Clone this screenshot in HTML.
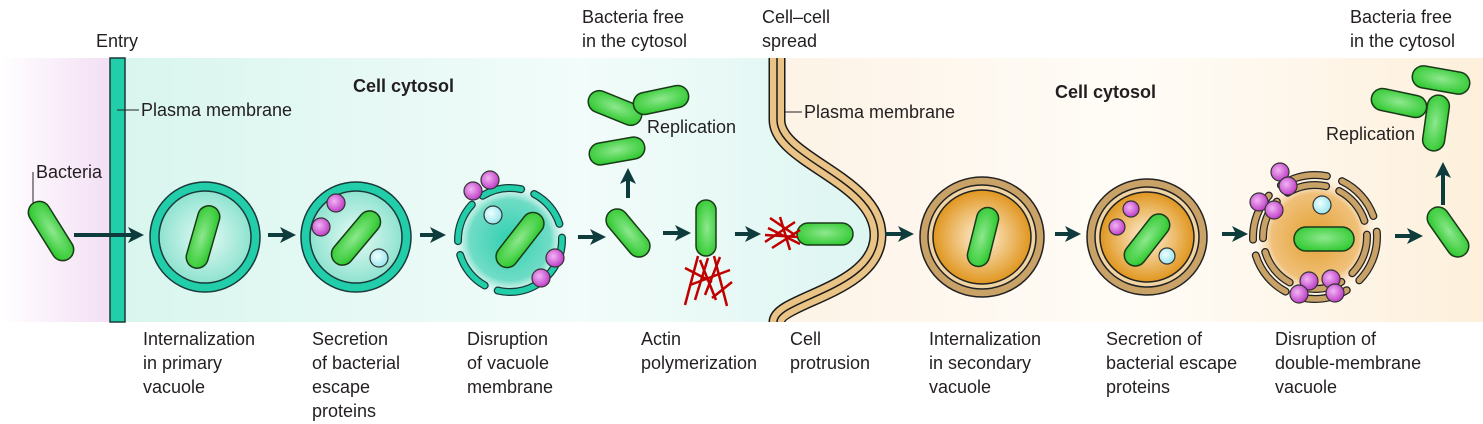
<!DOCTYPE html>
<html><head><meta charset="utf-8"><style>
html,body{margin:0;padding:0;background:#fff}
svg{display:block}
text{font-family:"Liberation Sans",sans-serif;fill:#231f20}
.lb{font-size:18px}
.b{font-weight:bold;font-size:18px}
</style></head><body>
<svg width="1483" height="424" viewBox="0 0 1483 424">
<defs>
<linearGradient id="pink" x1="0" x2="1"><stop offset="0" stop-color="#fff"/><stop offset="1" stop-color="#f3def4"/></linearGradient>
<linearGradient id="teal" x1="0" x2="1"><stop offset="0" stop-color="#d8f5ee"/><stop offset="0.6" stop-color="#f2fcfa"/><stop offset="1" stop-color="#dcf5f1"/></linearGradient>
<linearGradient id="cream" x1="0" x2="1"><stop offset="0" stop-color="#fdf3e6"/><stop offset="0.5" stop-color="#fffcf7"/><stop offset="1" stop-color="#fdf0dc"/></linearGradient>
<radialGradient id="bac" cx="0.5" cy="0.45" r="0.6"><stop offset="0" stop-color="#8ee88e"/><stop offset="1" stop-color="#2fc92f"/></radialGradient>
<radialGradient id="tv" cx="0.5" cy="0.5" r="0.5"><stop offset="0" stop-color="#e6faf5"/><stop offset="1" stop-color="#8fe3d0"/></radialGradient>
<radialGradient id="tglow" cx="0.5" cy="0.5" r="0.5"><stop offset="0" stop-color="#30d0b0"/><stop offset="0.7" stop-color="#70dcc6"/><stop offset="1" stop-color="#dff6f2" stop-opacity="0"/></radialGradient>
<radialGradient id="ov" cx="0.5" cy="0.5" r="0.5"><stop offset="0" stop-color="#fff2dc"/><stop offset="1" stop-color="#e0961f"/></radialGradient>
<radialGradient id="oglow" cx="0.5" cy="0.5" r="0.5"><stop offset="0" stop-color="#e3a030"/><stop offset="0.7" stop-color="#f0c07a"/><stop offset="1" stop-color="#fdf3e6" stop-opacity="0"/></radialGradient>
<radialGradient id="pur" cx="0.4" cy="0.4" r="0.6"><stop offset="0" stop-color="#f2b4f4"/><stop offset="1" stop-color="#c040c8"/></radialGradient>
<radialGradient id="cy" cx="0.4" cy="0.4" r="0.6"><stop offset="0" stop-color="#f0ffff"/><stop offset="1" stop-color="#9ae6ee"/></radialGradient>
<marker id="ah" markerWidth="4" markerHeight="4" refX="2" refY="2" orient="auto" markerUnits="strokeWidth"><path d="M0,0 L4,2 L0,4 L1,2z" fill="#0e3b3b"/></marker>
</defs>

<rect x="0" y="58" width="112" height="264" fill="url(#pink)"/>
<rect x="112" y="58" width="780" height="264" fill="url(#teal)"/>
<path d="M775,58 L775,120 C775,160 880,180 880,235 C880,290 775,300 775,322 L1483,322 L1483,58 Z" fill="url(#cream)"/>
<rect x="110" y="58" width="15" height="264" fill="#22cdaa" stroke="#1a3a3a" stroke-width="1.5"/>
<path d="M777,58 L777,120 C777,160 878,180 878,235 C878,290 777,300 777,322" fill="none" stroke="#1a1a1a" stroke-width="17"/>
<path d="M777,58 L777,120 C777,160 878,180 878,235 C878,290 777,300 777,322" fill="none" stroke="#e9c486" stroke-width="14"/>
<path d="M777,58 L777,120 C777,160 878,180 878,235 C878,290 777,300 777,322" fill="none" stroke="#1a1a1a" stroke-width="1.5"/>

<text class="lb" x="96" y="47">Entry</text>
<text class="lb" x="582" y="23">Bacteria free</text>
<text class="lb" x="582" y="47">in the cytosol</text>
<text class="lb" x="762" y="23">Cell–cell</text>
<text class="lb" x="762" y="47">spread</text>
<text class="lb" x="1350" y="23">Bacteria free</text>
<text class="lb" x="1350" y="47">in the cytosol</text>
<text class="b" x="353" y="92">Cell cytosol</text>
<text class="b" x="1055" y="98">Cell cytosol</text>
<line x1="117" y1="110" x2="139" y2="110" stroke="#222" stroke-width="1"/>
<text class="lb" x="141" y="116">Plasma membrane</text>
<line x1="785" y1="112" x2="802" y2="112" stroke="#222" stroke-width="1"/>
<text class="lb" x="804" y="118">Plasma membrane</text>
<line x1="33" y1="172" x2="33" y2="205" stroke="#222" stroke-width="1"/>
<text class="lb" x="36" y="178">Bacteria</text>
<text class="lb" x="647" y="133">Replication</text>
<text class="lb" x="1326" y="140">Replication</text>

<g>
<circle cx="205" cy="237" r="55" fill="#22cdaa" stroke="#1a3a3a" stroke-width="1.5"/>
<circle cx="205" cy="237" r="46" fill="url(#tv)" stroke="#1a3a3a" stroke-width="1.5"/>
</g>
<g>
<circle cx="356" cy="237" r="55" fill="#22cdaa" stroke="#1a3a3a" stroke-width="1.5"/>
<circle cx="356" cy="237" r="46" fill="url(#tv)" stroke="#1a3a3a" stroke-width="1.5"/>
</g>
<g>
<circle cx="510" cy="240" r="58" fill="url(#tglow)"/>
<circle cx="510" cy="240" r="52" fill="none" stroke="#1a3a3a" stroke-width="8" stroke-dasharray="40 14" stroke-linecap="round"/>
<circle cx="510" cy="240" r="52" fill="none" stroke="#22cdaa" stroke-width="5.5" stroke-dasharray="40 14" stroke-linecap="round"/>
</g>
<g>
<ellipse cx="982" cy="237" rx="62" ry="60" fill="#c9a268" stroke="#222" stroke-width="1.5"/>
<ellipse cx="982" cy="237" rx="54" ry="52" fill="#f0d4a4" stroke="#222" stroke-width="1.5"/>
<ellipse cx="982" cy="237" rx="49" ry="47" fill="url(#ov)" stroke="#222" stroke-width="1.5"/>
</g>
<g>
<ellipse cx="1147" cy="237" rx="60" ry="58" fill="#c9a268" stroke="#222" stroke-width="1.5"/>
<ellipse cx="1147" cy="237" rx="52" ry="50" fill="#f0d4a4" stroke="#222" stroke-width="1.5"/>
<ellipse cx="1147" cy="237" rx="47" ry="45" fill="url(#ov)" stroke="#222" stroke-width="1.5"/>
</g>
<g>
<circle cx="1315" cy="237" r="62" fill="url(#oglow)"/>
<circle cx="1315" cy="237" r="62" fill="none" stroke="#222" stroke-width="8" stroke-dasharray="48 16" stroke-linecap="round"/>
<circle cx="1315" cy="237" r="62" fill="none" stroke="#c9a268" stroke-width="5.5" stroke-dasharray="48 16" stroke-linecap="round"/>
<circle cx="1315" cy="237" r="52" fill="none" stroke="#222" stroke-width="8" stroke-dasharray="40 14" stroke-linecap="round"/>
<circle cx="1315" cy="237" r="52" fill="none" stroke="#c9a268" stroke-width="5.5" stroke-dasharray="40 14" stroke-linecap="round"/>
</g>

<g stroke="#1a3a1a" stroke-width="1.5" fill="url(#bac)">
<rect x="-33" y="-11" width="66" height="22" rx="11" transform="translate(51,231) rotate(58)"/>
<rect x="-32" y="-11" width="64" height="22" rx="11" transform="translate(203,237) rotate(-74)"/>
<rect x="-32" y="-11" width="64" height="22" rx="11" transform="translate(356,238) rotate(-50)"/>
<rect x="-32" y="-11" width="64" height="22" rx="11" transform="translate(520,240) rotate(-52)"/>
<rect x="-28" y="-11" width="56" height="22" rx="11" transform="translate(628,233) rotate(50)"/>
<rect x="-28" y="-11" width="56" height="22" rx="11" transform="translate(615,108) rotate(22)"/>
<rect x="-28" y="-11" width="56" height="22" rx="11" transform="translate(661,100) rotate(-12)"/>
<rect x="-28" y="-11" width="56" height="22" rx="11" transform="translate(617,151) rotate(-10)"/>
<rect x="-28" y="-10" width="56" height="20" rx="10" transform="translate(706,228) rotate(90)"/>
<rect x="-28" y="-11" width="56" height="22" rx="11" transform="translate(825,234)"/>
<rect x="-30" y="-11" width="60" height="22" rx="11" transform="translate(983,237) rotate(-76)"/>
<rect x="-30" y="-11" width="60" height="22" rx="11" transform="translate(1147,240) rotate(-52)"/>
<rect x="-30" y="-12" width="60" height="24" rx="12" transform="translate(1324,239)"/>
<rect x="-28" y="-11" width="56" height="22" rx="11" transform="translate(1448,232) rotate(55)"/>
<rect x="-29" y="-11" width="58" height="22" rx="11" transform="translate(1441,80) rotate(10)"/>
<rect x="-28" y="-11" width="56" height="22" rx="11" transform="translate(1399,103) rotate(12)"/>
<rect x="-28" y="-11" width="56" height="22" rx="11" transform="translate(1436,123) rotate(-82)"/>
</g>

<g stroke="#333" stroke-width="1.2">
<circle cx="336" cy="203" r="9" fill="url(#pur)"/>
<circle cx="321" cy="227" r="9" fill="url(#pur)"/>
<circle cx="379" cy="258" r="9" fill="url(#cy)"/>
<circle cx="473" cy="191" r="9" fill="url(#pur)"/>
<circle cx="490" cy="180" r="9" fill="url(#pur)"/>
<circle cx="493" cy="215" r="9" fill="url(#cy)"/>
<circle cx="555" cy="258" r="9" fill="url(#pur)"/>
<circle cx="541" cy="278" r="9" fill="url(#pur)"/>
<circle cx="1131" cy="209" r="8" fill="url(#pur)"/>
<circle cx="1117" cy="227" r="8" fill="url(#pur)"/>
<circle cx="1167" cy="256" r="8" fill="url(#cy)"/>
<circle cx="1322" cy="205" r="9" fill="url(#cy)"/>
<circle cx="1280" cy="172" r="9" fill="url(#pur)"/>
<circle cx="1288" cy="186" r="9" fill="url(#pur)"/>
<circle cx="1259" cy="202" r="9" fill="url(#pur)"/>
<circle cx="1274" cy="210" r="9" fill="url(#pur)"/>
<circle cx="1309" cy="281" r="9" fill="url(#pur)"/>
<circle cx="1299" cy="294" r="9" fill="url(#pur)"/>
<circle cx="1331" cy="279" r="9" fill="url(#pur)"/>
<circle cx="1335" cy="293" r="9" fill="url(#pur)"/>
</g>

<g stroke="#c00000" stroke-width="2.5">
<line x1="698" y1="256" x2="685" y2="305"/><line x1="708" y1="258" x2="695" y2="300"/>
<line x1="714" y1="256" x2="727" y2="306"/><line x1="700" y1="260" x2="716" y2="300"/>
<line x1="685" y1="268" x2="712" y2="282"/><line x1="690" y1="285" x2="730" y2="270"/>
<line x1="712" y1="298" x2="732" y2="282"/><line x1="720" y1="257" x2="705" y2="295"/>
<line x1="770" y1="218" x2="795" y2="235"/><line x1="765" y1="242" x2="795" y2="222"/>
<line x1="768" y1="228" x2="800" y2="244"/><line x1="772" y1="248" x2="800" y2="230"/>
<line x1="780" y1="217" x2="790" y2="250"/><line x1="765" y1="235" x2="798" y2="237"/>
</g>

<g stroke="#0e3b3b" stroke-width="4" marker-end="url(#ah)">
<line x1="74" y1="235" x2="136" y2="235"/>
<line x1="268" y1="235" x2="288" y2="235"/>
<line x1="420" y1="235" x2="438" y2="235"/>
<line x1="578" y1="237" x2="598" y2="237"/>
<line x1="663" y1="233" x2="683" y2="233"/>
<line x1="735" y1="234" x2="753" y2="234"/>
<line x1="885" y1="234" x2="906" y2="234"/>
<line x1="1055" y1="234" x2="1073" y2="234"/>
<line x1="1222" y1="234" x2="1240" y2="234"/>
<line x1="1395" y1="236" x2="1415" y2="236"/>
<line x1="628" y1="198" x2="628" y2="176"/>
<line x1="1443" y1="205" x2="1443" y2="170"/>
</g>

<g>
<text class="lb" x="143" y="345">Internalization</text><text class="lb" x="143" y="369">in primary</text><text class="lb" x="143" y="393">vacuole</text>
<text class="lb" x="312" y="345">Secretion</text><text class="lb" x="312" y="369">of bacterial</text><text class="lb" x="312" y="393">escape</text><text class="lb" x="312" y="417">proteins</text>
<text class="lb" x="467" y="345">Disruption</text><text class="lb" x="467" y="369">of vacuole</text><text class="lb" x="467" y="393">membrane</text>
<text class="lb" x="641" y="345">Actin</text><text class="lb" x="641" y="369">polymerization</text>
<text class="lb" x="790" y="345">Cell</text><text class="lb" x="790" y="369">protrusion</text>
<text class="lb" x="929" y="345">Internalization</text><text class="lb" x="929" y="369">in secondary</text><text class="lb" x="929" y="393">vacuole</text>
<text class="lb" x="1106" y="345">Secretion of</text><text class="lb" x="1106" y="369">bacterial escape</text><text class="lb" x="1106" y="393">proteins</text>
<text class="lb" x="1275" y="345">Disruption of</text><text class="lb" x="1275" y="369">double-membrane</text><text class="lb" x="1275" y="393">vacuole</text>
</g>
</svg>
</body></html>
